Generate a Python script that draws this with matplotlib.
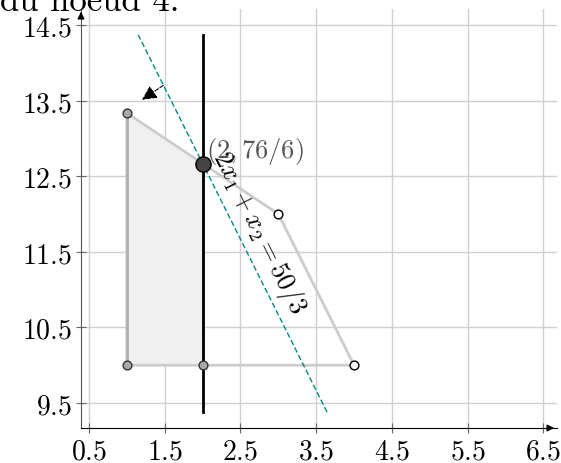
import matplotlib.pyplot as plt
import numpy as np

plt.rcParams['mathtext.fontset'] = 'cm'
plt.rcParams['font.family'] = ['DejaVu Serif']

# donnees
poly_x = [1, 1, 2, 3, 4, 1]
poly_y = [10, 40 / 3, 76 / 6, 12, 10, 10]
shade_x = [1, 1, 2, 2]
shade_y = [10, 40 / 3, 76 / 6, 10]
gray_pts_x = [1, 1, 2]
gray_pts_y = [40 / 3, 10, 10]
white_pts_x = [3, 4]
white_pts_y = [12, 10]
opt_x, opt_y = 2, 76 / 6
line_rhs = 50 / 3
y_span = [9.38, 14.37]
xticks = [0.5, 1.5, 2.5, 3.5, 4.5, 5.5, 6.5]
yticks = [9.5, 10.5, 11.5, 12.5, 13.5, 14.5]

fig = plt.figure(figsize=(5.61, 4.64), dpi=100)
ax = fig.add_axes([81 / 561, 1 - 429 / 464, (557 - 81) / 561, (429 - 10) / 464])
ax.set_xlim(0.394, 6.68)
ax.set_ylim(9.17, 14.71)

ax.set_xticks(xticks)
ax.set_yticks(yticks)
ax.set_xticklabels(['$%g$' % t for t in xticks], fontsize=20)
ax.set_yticklabels(['$%g$' % t for t in yticks], fontsize=20)
ax.grid(True, color='#d0d0d0', lw=1)
ax.set_axisbelow(True)
ax.tick_params(direction='inout', length=7, color='#666666', pad=3)
for s in ['top', 'right']:
    ax.spines[s].set_visible(False)
ax.spines['left'].set_color('#555555')
ax.spines['bottom'].set_color('black')

# fleches des axes
ax.annotate('', xy=(1.0, 0), xycoords='axes fraction', xytext=(0.98, 0),
            arrowprops=dict(arrowstyle='-|>', color='black', lw=1, mutation_scale=10))
ax.annotate('', xy=(0, 1.0), xycoords='axes fraction', xytext=(0, 0.98),
            arrowprops=dict(arrowstyle='-|>', color='black', lw=1, mutation_scale=10))

# region
ax.fill(shade_x, shade_y, color='#f0f0f0', zorder=2)
ax.plot(poly_x, poly_y, color='#cccccc', lw=2, zorder=3)
ax.plot([1, 1], [10, 40 / 3], color='#b0b0b0', lw=2, zorder=3)
ax.plot([2, 2], [10, 76 / 6], color='#b0b0b0', lw=2, zorder=3)

# droites
ax.plot([opt_x, opt_x], y_span, color='black', lw=2, zorder=4)
ys = np.array(y_span)
ax.plot((line_rhs - ys) / 2, ys, color='#008b8b', lw=1, ls=(0, (4, 2)), zorder=4)
ax.annotate('', xy=(1.2, 13.51), xytext=(1.48, 13.70),
            arrowprops=dict(arrowstyle='-|>', color='black', lw=0.8, ls='--',
                            mutation_scale=22, shrinkA=0, shrinkB=0), zorder=5)

# points
ax.scatter(gray_pts_x, gray_pts_y, s=40, color='#aaaaaa', edgecolor='#333333', lw=1, zorder=6)
ax.scatter(white_pts_x, white_pts_y, s=40, color='white', edgecolor='black', lw=1, zorder=6)
ax.scatter([opt_x], [opt_y], s=120, color='#444444', edgecolor='black', lw=1, zorder=7)

ax.text(2.04, 12.84, '$(2, 76/6)$', fontsize=19, color='#555555', va='center', ha='left', zorder=8)
ax.text(2.74, 11.76, '$2x_1 + x_2 = 50/3$', fontsize=19, rotation=-63.4,
        rotation_mode='anchor', ha='center', va='center', zorder=8)

fig.text(0.0, 1 - 11 / 464, 'du noeud 4.', fontsize=25, family='cmr10', va='baseline', ha='left')

plt.savefig('out.png', dpi=100)
